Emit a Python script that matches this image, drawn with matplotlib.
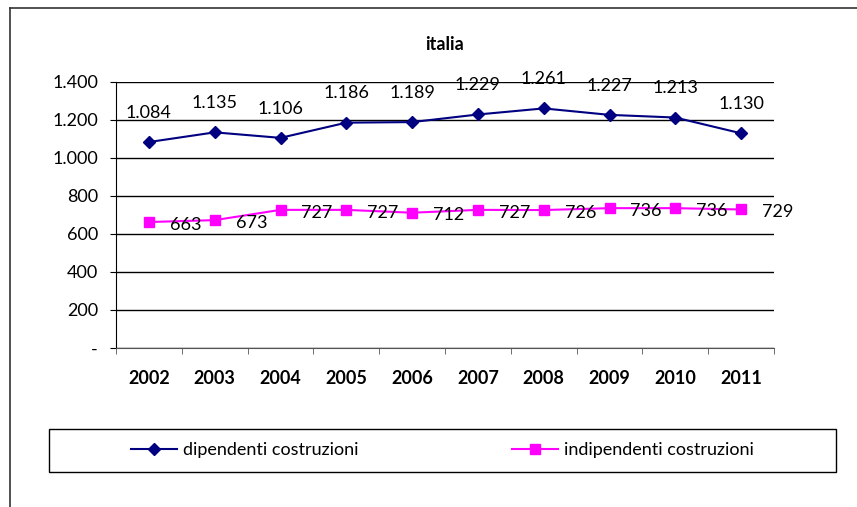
import numpy as np
import matplotlib
matplotlib.use("Agg")
import matplotlib.pyplot as plt
from matplotlib.ticker import FuncFormatter, FixedLocator
from matplotlib.lines import Line2D
from matplotlib.patches import Rectangle

years = ["2002", "2003", "2004", "2005", "2006", "2007", "2008", "2009", "2010", "2011"]
dipendenti = [1084, 1135, 1106, 1186, 1189, 1229, 1261, 1227, 1213, 1130]
indipendenti = [663, 673, 727, 727, 712, 727, 726, 736, 736, 729]

plt.rcParams['font.family'] = ['Lato', 'DejaVu Sans']
FS = 13

def fmt_it(v, pos=None):
    if v == 0:
        return "-"
    return f"{int(round(v)):,}".replace(",", ".")

fig = plt.figure(figsize=(8.57, 5.07), dpi=100)
ax = fig.add_axes([116/857, 1-348/507, (774-116)/857, (348-82)/507])

x = np.arange(len(years))
ax.plot(x, dipendenti, color="#000080", lw=1.5, marker="D", ms=6, label="dipendenti costruzioni", zorder=3)
ax.plot(x, indipendenti, color="#FF00FF", lw=1.5, marker="s", ms=6.5, label="indipendenti costruzioni", zorder=3)

for xi, v in zip(x, dipendenti):
    ax.annotate(fmt_it(v), (xi, v), xytext=(0, 21), textcoords="offset points",
                ha="center", va="center", fontsize=FS, color="black")
for xi, v in zip(x, indipendenti):
    ax.annotate(fmt_it(v), (xi, v), xytext=(15, -2), textcoords="offset points",
                ha="left", va="center", fontsize=FS, color="black")

ax.set_xlim(-0.5, len(years) - 0.5)
ax.set_ylim(0, 1400)
ax.set_yticks(np.arange(0, 1401, 200))
ax.yaxis.set_major_formatter(FuncFormatter(fmt_it))
ax.grid(axis="y", color="black", lw=1)
ax.set_axisbelow(True)

ax.set_xticks(x)
ax.set_xticklabels(years, fontweight="bold", fontsize=FS)
ax.xaxis.set_minor_locator(FixedLocator(np.arange(-0.5, len(years), 1.0)))
ax.tick_params(axis="x", which="major", length=0, pad=16)
ax.tick_params(axis="x", which="minor", length=4, color="#555555")
ax.tick_params(axis="y", length=4, pad=9, labelsize=FS)

for s in ["top", "right"]:
    ax.spines[s].set_visible(False)
ax.spines["left"].set_color("black")
ax.spines["bottom"].set_color("#555555")

ax.set_title("italia", fontweight="bold", fontsize=FS, pad=23)

# outer chart border (partial, as in the screenshot)
fig.add_artist(Line2D([10/857, 10/857], [0, 1-8/507], transform=fig.transFigure, color="#333333", lw=1.2))
fig.add_artist(Line2D([10/857, 1], [1-8/507, 1-8/507], transform=fig.transFigure, color="#333333", lw=1.2))

# legend box
fig.add_artist(Rectangle((49/857, 1-472/507), (836-49)/857, (472-429)/507,
                         transform=fig.transFigure, fill=False, edgecolor="black", lw=1))
fig.legend(loc="center", bbox_to_anchor=((49+836)/2/857, 1-450.5/507), ncol=2,
           frameon=False, fontsize=FS, handlelength=2.55, handletextpad=0.33,
           columnspacing=8.5, markerscale=1.0)

fig.savefig("out.png", dpi=100)
